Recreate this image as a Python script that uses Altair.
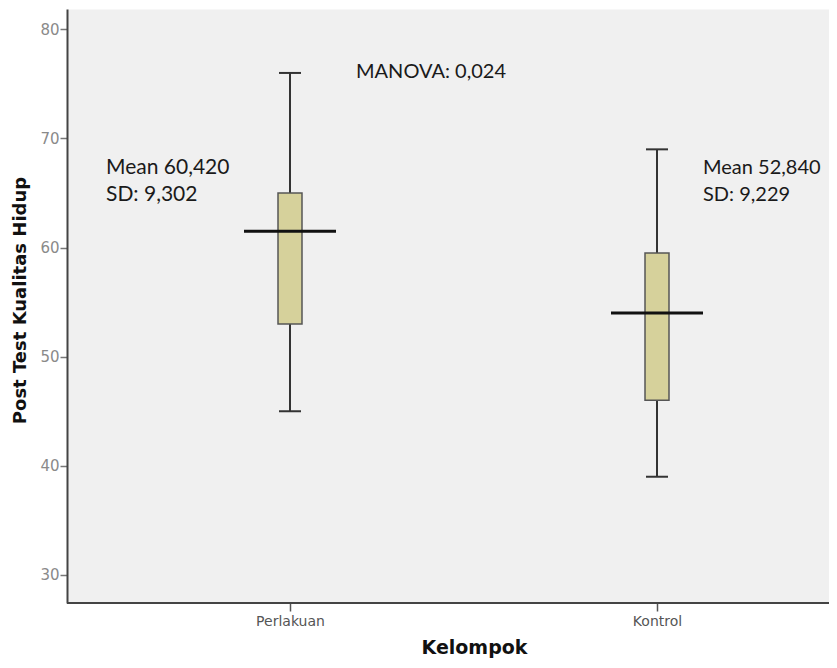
import altair as alt
import pandas as pd

groups = ["Perlakuan", "Kontrol"]
whisker_low = [45, 39]
q1 = [53, 46]
median = [61.5, 54]
q3 = [65, 59.5]
whisker_high = [76, 69]

y_ticks = [30, 40, 50, 60, 70, 80]

ann_left_text = ["Mean 60,420", "SD: 9,302"]
ann_left_y = [67.3, 64.85]
ann_right_text = ["Mean 52,840", "SD: 9,229"]
ann_right_y = [67.3, 64.85]
manova_text = ["MANOVA: 0,024"]
manova_y = [76.1]

df = pd.DataFrame({
    "group": groups, "lo": whisker_low, "q1": q1, "med": median,
    "q3": q3, "hi": whisker_high,
})
ann_l = pd.DataFrame({"group": ["Perlakuan"] * 2, "y": ann_left_y, "t": ann_left_text})
ann_r = pd.DataFrame({"group": ["Kontrol"] * 2, "y": ann_right_y, "t": ann_right_text})
ann_m = pd.DataFrame({"group": ["Perlakuan"], "y": manova_y, "t": manova_text})

W, H = 762, 594
xscale = alt.Scale(type="point", range=[223, 590], padding=0, domain=groups)
yscale = alt.Scale(domain=[27.43, 81.86], nice=False, zero=False)

x_enc = alt.X("group:N", sort=groups, scale=xscale, title="Kelompok",
              axis=alt.Axis(labelAngle=0, labelFont="DejaVu Sans", labelFontSize=14,
                            labelColor="#555", tickColor="#555", tickSize=8, tickWidth=1.5,
                            titleFont="DejaVu Sans", titleFontSize=19,
                            titleFontWeight="bold", titleX=407, titleY=50,
                            titleBaseline="alphabetic", labelPadding=3, domain=False))
y_axis = alt.Axis(values=y_ticks, grid=False, labelFont="DejaVu Sans", labelFontSize=15,
                  labelColor="#8a8a8a", tickColor="#777", tickSize=7, tickWidth=1.5,
                  labelPadding=1,
                  titleFont="DejaVu Sans", titleFontSize=18,
                  titleFontWeight="bold", titleY=291, titleX=-47, titleBaseline="middle")

base = alt.Chart(df)

whisk = base.mark_rule(color="#333", strokeWidth=2).encode(
    x=x_enc, y=alt.Y("lo:Q", scale=yscale, axis=y_axis, title="Post Test Kualitas Hidup"),
    y2="hi:Q")
box = base.mark_bar(size=24, fill="#d6d19b", stroke="#555", strokeWidth=1.5).encode(
    x="group:N", y="q1:Q", y2="q3:Q")
cap_lo = base.mark_tick(size=22, thickness=2, color="#333", opacity=1).encode(
    x="group:N", y="lo:Q")
cap_hi = base.mark_tick(size=22, thickness=2, color="#333", opacity=1).encode(
    x="group:N", y="hi:Q")
med = base.mark_tick(size=92, thickness=3, color="#111", opacity=1).encode(
    x="group:N", y="med:Q")

x_line = alt.Chart(df).mark_rule(color="#444", strokeWidth=2).encode(
    x=alt.value(0), x2=alt.value(W), y=alt.value(H))

txt_style = dict(font="Lato", align="left", baseline="middle", color="#1a1a1a")
t_l = alt.Chart(ann_l).mark_text(dx=-184, fontSize=21, **txt_style).encode(
    x="group:N", y="y:Q", text="t:N")
t_r = alt.Chart(ann_r).mark_text(dx=46, fontSize=20, **txt_style).encode(
    x="group:N", y="y:Q", text="t:N")
t_m = alt.Chart(ann_m).mark_text(dx=66, fontSize=20, **txt_style).encode(
    x="group:N", y="y:Q", text="t:N")

chart = alt.layer(whisk, box, cap_lo, cap_hi, med, x_line, t_l, t_r, t_m).properties(
    width=W, height=H,
    autosize=alt.AutoSizeParams(type="none"),
    padding={"left": 59, "top": 1, "right": 0, "bottom": 57},
).configure_view(fill="#f0f0f0", stroke="transparent").configure_axis(
    domainColor="#444", domainWidth=2, titleColor="#111"
)

chart.save("out.html", embed_options={"renderer": "svg", "actions": False})
